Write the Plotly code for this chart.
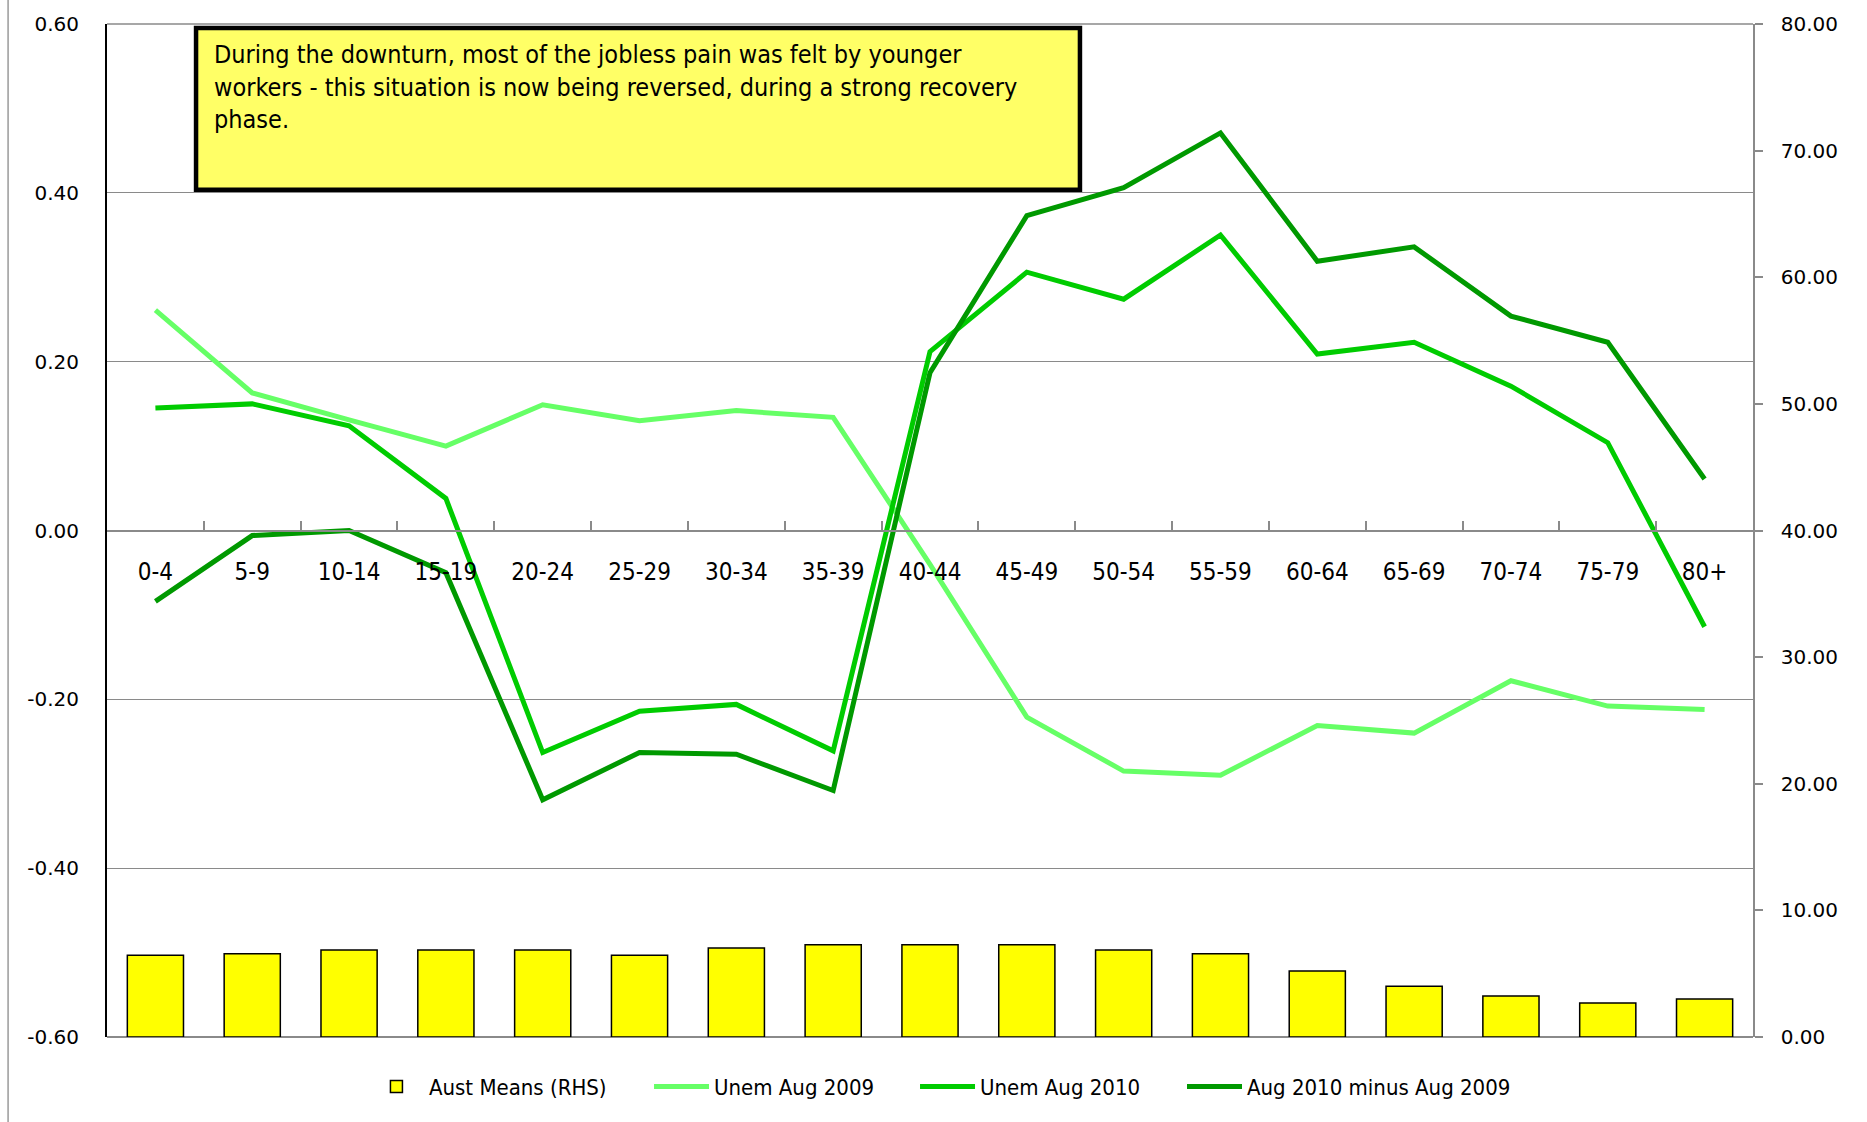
import plotly.graph_objects as go

# Age groups on the category axis
age_groups = ["0-4", "5-9", "10-14", "15-19", "20-24", "25-29", "30-34", "35-39",
              "40-44", "45-49", "50-54", "55-59", "60-64", "65-69", "70-74", "75-79", "80+"]

# Australian means by age group (right-hand scale)
aust_means = [6.45, 6.58, 6.87, 6.87, 6.87, 6.45, 7.03, 7.29, 7.29, 7.29,
              6.87, 6.58, 5.21, 4.00, 3.24, 2.69, 3.00]

# Unemployment measures by age group (left-hand scale)
unem_aug_2009 = [0.261, 0.163, 0.131, 0.100, 0.149, 0.130, 0.142, 0.134, -0.040,
                 -0.221, -0.285, -0.290, -0.231, -0.240, -0.178, -0.208, -0.212]
unem_aug_2010 = [0.145, 0.150, 0.124, 0.038, -0.263, -0.214, -0.206, -0.261, 0.212,
                 0.306, 0.274, 0.350, 0.209, 0.223, 0.171, 0.104, -0.114]
diff_2010_2009 = [-0.084, -0.006, 0.000, -0.050, -0.319, -0.263, -0.265, -0.308, 0.187,
                  0.373, 0.406, 0.471, 0.319, 0.336, 0.254, 0.223, 0.061]

# Axis tick labels
left_tick_vals = [-0.6, -0.4, -0.2, 0.0, 0.2, 0.4, 0.6]
left_tick_text = ["-0.60", "-0.40", "-0.20", "0.00", "0.20", "0.40", "0.60"]
right_tick_vals = [0, 10, 20, 30, 40, 50, 60, 70, 80]
right_tick_text = ["0.00", "10.00", "20.00", "30.00", "40.00", "50.00", "60.00", "70.00", "80.00"]

note_text = ("During the downturn, most of the jobless pain was felt by younger<br>"
             "workers - this situation is now being reversed, during a strong recovery<br>"
             "phase.")

NARROW = "Liberation Sans Narrow, DejaVu Sans Condensed, Arial Narrow, sans-serif"
WIDE = "DejaVu Sans, Verdana, sans-serif"
GRID = "#8a8a8a"

fig = go.Figure()

fig.add_trace(go.Bar(
    x=age_groups, y=aust_means, name="Aust Means (RHS)", yaxis="y2", legend="legend",
    width=0.58, marker=dict(color="#FFFF00", line=dict(color="black", width=1.5)),
))
fig.add_trace(go.Scatter(
    x=age_groups, y=unem_aug_2009, name="Unem Aug 2009", mode="lines", legend="legend2",
    line=dict(color="#66FF66", width=5),
))
fig.add_trace(go.Scatter(
    x=age_groups, y=unem_aug_2010, name="Unem Aug 2010", mode="lines", legend="legend3",
    line=dict(color="#00CC00", width=5),
))
fig.add_trace(go.Scatter(
    x=age_groups, y=diff_2010_2009, name="Aug 2010 minus Aug 2009", mode="lines",
    legend="legend4", line=dict(color="#009900", width=5),
))


def legend_box(x):
    # one legend entry placed along the bottom row
    return dict(orientation="h", x=x, xanchor="left", y=-0.049, yanchor="middle",
                font=dict(family=NARROW, size=22, color="black"),
                itemwidth=55, bgcolor="rgba(0,0,0,0)")


fig.update_layout(
    width=1867, height=1122,
    margin=dict(l=107, r=114, t=24, b=85),
    paper_bgcolor="white", plot_bgcolor="white",
    showlegend=True,
    legend=legend_box(0.1561),
    legend2=legend_box(0.3293),
    legend3=legend_box(0.4909),
    legend4=legend_box(0.6531),
    xaxis=dict(
        type="category", anchor="free", position=0.5,
        showline=True, linecolor=GRID, linewidth=1.5,
        ticks="inside", ticklen=9, tickcolor=GRID, tickwidth=1.5,
        tickson="boundaries", showgrid=False, zeroline=False,
        tickfont=dict(family=NARROW, size=24, color="black"),
        ticklabelstandoff=20,
    ),
    yaxis=dict(
        range=[-0.6, 0.6], tickvals=left_tick_vals, ticktext=left_tick_text,
        showline=True, linecolor="black", linewidth=2,
        showgrid=True, gridcolor=GRID, gridwidth=1.3, zeroline=False,
        ticks="", ticklabelstandoff=22,
        tickfont=dict(family=WIDE, size=20, color="black"),
    ),
    yaxis2=dict(
        overlaying="y", side="right", range=[0, 80],
        tickvals=right_tick_vals, ticktext=right_tick_text,
        showline=True, linecolor=GRID, linewidth=1.5,
        ticks="outside", ticklen=8, tickcolor=GRID, tickwidth=1.5,
        showgrid=False, zeroline=False, ticklabelstandoff=14,
        tickfont=dict(family=WIDE, size=20, color="black"),
    ),
    shapes=[
        # top and bottom edges of the plotting area
        dict(type="line", xref="paper", yref="paper", x0=0, x1=1, y0=1, y1=1,
             line=dict(color=GRID, width=1.5), layer="below"),
        dict(type="line", xref="paper", yref="paper", x0=0, x1=1, y0=0, y1=0,
             line=dict(color=GRID, width=2), layer="below"),
        # chart area border on the left
        dict(type="line", xref="paper", yref="paper", x0=-0.0601, x1=-0.0601, y0=-0.09, y1=1.03,
             line=dict(color="#9a9a9a", width=1.5)),
        # note box
        dict(type="rect", xref="paper", yref="paper",
             x0=0.0541, x1=0.5911, y0=0.8365, y1=0.996,
             fillcolor="#FFFF66", line=dict(color="black", width=4.5), layer="above"),
    ],
    annotations=[
        dict(text=note_text, xref="paper", yref="paper", x=0.064, y=0.986,
             xanchor="left", yanchor="top", align="left", showarrow=False,
             font=dict(family=NARROW, size=25, color="black")),
    ],
)

fig.write_html("out.html")
